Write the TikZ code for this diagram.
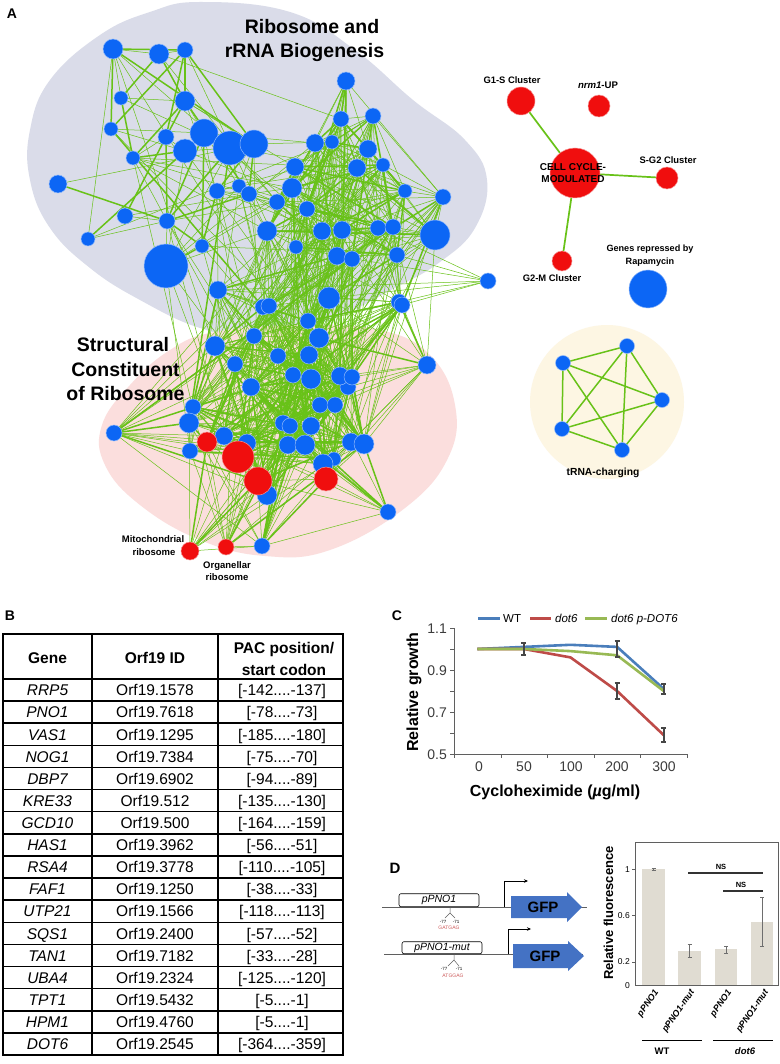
\documentclass[tikz,border=0pt]{standalone}
\usepackage{fontspec}
\setmainfont{Liberation Sans}
\usetikzlibrary{arrows.meta}
\pgfdeclarelayer{bgwhite}
\pgfdeclarelayer{blob}
\pgfdeclarelayer{edges}
\pgfsetlayers{bgwhite,blob,edges,main}
\definecolor{nblue}{RGB}{12,102,245}
\definecolor{nred}{RGB}{240,14,14}
\definecolor{egreen}{RGB}{104,194,24}
\definecolor{blobgray}{RGB}{218,220,233}
\definecolor{blobpink}{RGB}{251,222,221}
\definecolor{blobcream}{RGB}{253,246,227}
\definecolor{cwt}{RGB}{74,126,187}
\definecolor{cdot}{RGB}{190,75,72}
\definecolor{cres}{RGB}{152,185,84}
\definecolor{gfpblue}{RGB}{68,114,196}
\definecolor{barfill}{RGB}{224,220,210}
\definecolor{axgray}{RGB}{95,95,95}
\definecolor{seqred}{RGB}{205,90,90}
\newcommand\fsz[1]{\fontsize{#1}{#1}\selectfont}
\newcommand\defpairprob[5]{\expandafter\def\csname pb#1#2\endcsname{#3}\expandafter\def\csname pl#1#2\endcsname{#4}\expandafter\def\csname pw#1#2\endcsname{#5}}
\defpairprob{1}{1}{0.95}{85}{0.55}
\defpairprob{1}{2}{0.3}{100}{0.1}
\defpairprob{1}{3}{0.25}{100}{0.1}
\defpairprob{1}{4}{0}{100}{0}
\defpairprob{2}{2}{1.0}{160}{0.25}
\defpairprob{2}{3}{0.6}{150}{0.1}
\defpairprob{2}{4}{0}{100}{0}
\defpairprob{3}{3}{1.0}{135}{0.25}
\defpairprob{4}{3}{0}{100}{0}
\newcommand\ebarC[3]{\draw[errc] (#1,#2) -- (#1,#3) (#1-2.5,#2) -- (#1+2.5,#2) (#1-2.5,#3) -- (#1+2.5,#3);}
\newcommand\ebarD[3]{\draw[errd] (#1,#2) -- (#1,#3) (#1-2,#2) -- (#1+2,#2) (#1-2,#3) -- (#1+2,#3);}
\begin{document}
\begin{tikzpicture}[x=1pt,y=-1pt,
  lab/.style={inner sep=0pt,anchor=base},
  rnode/.style={circle,inner sep=0pt,fill=nred,draw=white!55!nred,line width=0.5pt},
  bnode/.style={circle,inner sep=0pt,fill=nblue,draw=white!55!nblue,line width=0.5pt},
  gedge/.style={egreen,line width=0.5pt},
  gthick/.style={egreen,line width=1.5pt},
  tline/.style={black,line width=1.5pt},
  errc/.style={draw={rgb,255:red,70;green,70;blue,70},line width=1.6pt},
  errd/.style={draw={rgb,255:red,110;green,110;blue,110},line width=0.7pt}]
\useasboundingbox (0,0) rectangle (779,1064);
\begin{pgfonlayer}{bgwhite}
\fill[white] (0,0) rectangle (779,1064);
\end{pgfonlayer}

% ---------------- Panel A: blobs ----------------
\begin{pgfonlayer}{blob}
\fill[blobgray] plot[smooth cycle,tension=0.7] coordinates {(200,2) (290,12) (355,50) (413,100) (465,140) (487,180) (475,228) (440,262) (395,288) (330,320) (258,337) (200,328) (140,300) (90,268) (50,228) (30,180) (30,130) (50,80) (100,35) (150,12)};
\fill[blobpink] plot[smooth cycle,tension=0.7] coordinates {(215,332) (300,325) (380,330) (430,355) (455,405) (448,458) (405,508) (330,550) (265,556) (200,540) (140,505) (105,465) (102,425) (130,385) (170,350)};
\fill[blobcream] (607,402) circle[radius=77pt];
\end{pgfonlayer}

% ---------------- Panel A: network nodes ----------------
\foreach \i/\x/\y/\r/\k in {
1/113/49/10/1, 2/159/54/10/1, 3/185/50/8/1, 4/121/98/7/1, 5/185/101/10/1, 6/111/129/7/1, 7/166/137/8/1, 8/204/133/14/1, 9/185/151/12/1, 10/230/148/17/1, 11/254/144/14/1, 12/133/158/7/1, 13/58/184/9/1, 14/217/191/8/1, 15/239/186/7/1, 16/249/194/8/1, 17/125/216/8/1, 18/167/221/8/1, 19/88/239/7/1, 20/202/246/7/1, 21/166/266/22/1,
22/346/81/9/2, 23/341/119/8/2, 24/373/116/8/2, 25/315/143/9/2, 26/332/142/7/2, 27/368/149/9/2, 28/295/167/9/2, 29/357/168/9/2, 30/383/165/7/2, 31/292/188/10/2, 32/277/202/8/2, 33/307/209/8/2, 34/405/191/7/2, 35/443/197/8/2, 36/267/231/10/2, 37/322/231/9/2, 38/342/230/9/2, 39/378/228/8/2, 40/393/227/8/2, 41/435/235/15/2, 42/296/247/7/2, 43/337/256/9/2, 44/352/259/8/2, 45/397/255/8/2,
46/488/281/8/4,
47/218/290/9/3, 48/329/298/11/3, 49/263/307/8/3, 50/269/306/8/3, 51/399/302/8/3, 52/402/305/8/3, 53/308/321/8/3, 54/319/338/10/3, 55/254/336/8/3, 56/215/346/10/3, 57/278/356/8/3, 58/309/355/9/3, 59/235/364/8/3, 60/427/365/9/3, 61/293/375/8/3, 62/311/379/10/3, 63/348/387/8/3, 64/340/376/9/3, 65/352/377/8/3, 66/251/387/9/3, 67/193/407/8/3, 68/320/405/8/3, 69/335/405/8/3, 70/189/423/10/3, 71/114/433/8/3, 72/283/423/8/3, 73/290/426/8/3, 74/311/426/9/3, 75/224/436/9/3, 76/247/443/9/3, 77/190/451/8/3, 78/288/445/9/3, 79/305/445/10/3, 80/351/442/9/3, 81/364/444/10/3, 82/334/459/7/3, 83/323/464/10/3, 84/267/495/10/3, 85/388/512/8/3, 86/262/546/8/3,
87/207/442/10/3, 88/238/457/16/3, 89/258/481/14/3, 90/326/479/12/3, 91/190/551/9/3, 92/226/547/8/3}{
  \ifnum\i>86
    \node[rnode,minimum size={2*\r*1pt}] (n\i) at (\x,\y) {};
  \else
    \node[bnode,minimum size={2*\r*1pt}] (n\i) at (\x,\y) {};
  \fi
  \expandafter\xdef\csname nx\i\endcsname{\x}
  \expandafter\xdef\csname ny\i\endcsname{\y}
  \expandafter\xdef\csname nk\i\endcsname{\k}
}

% ---------------- Panel A: network edges ----------------
\pgfmathsetseed{4242}
\begin{pgfonlayer}{edges}
\foreach \i in {1,...,91}{
  \pgfmathtruncatemacro\jst{\i+1}
  \foreach \j in {\jst,...,92}{
    \edef\ki{\csname nk\i\endcsname}\edef\kj{\csname nk\j\endcsname}
    \edef\pbv{\csname pb\ki\kj\endcsname}\edef\plv{\csname pl\ki\kj\endcsname}\edef\pwv{\csname pw\ki\kj\endcsname}
    \edef\xa{\csname nx\i\endcsname}\edef\ya{\csname ny\i\endcsname}
    \edef\xb{\csname nx\j\endcsname}\edef\yb{\csname ny\j\endcsname}
    \pgfmathsetmacro\dd{veclen(\xa-\xb,\ya-\yb)}
    \pgfmathsetmacro\pp{\pbv*exp(-\dd/\plv)}
    \pgfmathsetmacro\rr{rnd}
    \ifdim\rr pt<\pp pt
      \pgfmathsetmacro\ww{rnd}
      \ifdim\ww pt<\pwv pt
        \draw[gthick] (n\i.center) -- (n\j.center);
      \else
        \draw[gedge] (n\i.center) -- (n\j.center);
      \fi
    \fi
  }
}
\foreach \j in {31,43,47,48,51,52,45}{\draw[gedge] (n46.center) -- (n\j.center);}
\end{pgfonlayer}

% ---------------- Panel A: labels ----------------
\node[lab,font=\fsz{14}\bfseries] (labA) at (12,19) {A};
\node[lab,font=\fsz{19.5}\bfseries] (t1a) at (312,34) {Ribosome and};
\node[lab,font=\fsz{19.5}\bfseries] (t1b) at (304.5,58) {rRNA Biogenesis};
\node[lab,font=\fsz{19.5}\bfseries] (t2a) at (123,351) {Structural};
\node[lab,font=\fsz{19.5}\bfseries] (t2b) at (125.5,376) {Constituent};
\node[lab,font=\fsz{19.5}\bfseries] (t2c) at (125.5,400) {of Ribosome};
\node[lab,font=\fsz{9.5}\bfseries] (mitoa) at (153,542.4) {Mitochondrial};
\node[lab,font=\fsz{9.5}\bfseries] (mitob) at (154,555.4) {ribosome};
\node[lab,font=\fsz{9.5}\bfseries] (orga) at (227,568.4) {Organellar};
\node[lab,font=\fsz{9.5}\bfseries] (orgb) at (227,580.4) {ribosome};

% ---------------- Cell cycle cluster ----------------
\node[rnode,minimum size=28pt] (g1s) at (521,101) {};
\node[rnode,minimum size=22pt] (nrm) at (599,106) {};
\node[rnode,minimum size=50pt] (cc) at (575,173) {};
\node[rnode,minimum size=22pt] (sg2) at (667,178) {};
\node[rnode,minimum size=20pt] (g2m) at (562,261) {};
\node[bnode,minimum size=38pt] (rapa) at (648,289) {};
\begin{pgfonlayer}{edges}
\draw[egreen,line width=1.7pt] (g1s.center) -- (cc.center);
\draw[egreen,line width=1.7pt] (cc.center) -- (sg2.center);
\draw[egreen,line width=1.7pt] (cc.center) -- (g2m.center);
\end{pgfonlayer}
\node[lab,font=\fsz{9.4}\bfseries] (g1slab) at (512,83.4) {G1-S Cluster};
\node[lab,font=\fsz{9.6}\bfseries] (nrmlab) at (598,88.4) {\textit{nrm1}-UP};
\node[lab,font=\fsz{10}\bfseries] (cclaba) at (573,170.6) {CELL CYCLE-};
\node[lab,font=\fsz{10}\bfseries] (cclabb) at (573,182.6) {MODULATED};
\node[lab,font=\fsz{9.4}\bfseries] (sg2lab) at (668,163.4) {S-G2 Cluster};
\node[lab,font=\fsz{9.4}\bfseries] (g2mlab) at (552,281.4) {G2-M Cluster};
\node[lab,font=\fsz{9.1}\bfseries] (rapla) at (650,251.3) {Genes repressed by};
\node[lab,font=\fsz{9.1}\bfseries] (raplb) at (650,264.3) {Rapamycin};

% ---------------- tRNA charging ----------------
\node[bnode,minimum size=15pt] (t1) at (563,363) {};
\node[bnode,minimum size=15pt] (t2) at (627,346) {};
\node[bnode,minimum size=15pt] (t3) at (662,400) {};
\node[bnode,minimum size=15pt] (t4) at (622,450) {};
\node[bnode,minimum size=15pt] (t5) at (562,429) {};
\begin{pgfonlayer}{edges}
\foreach \a/\b in {t1/t2,t1/t3,t1/t4,t1/t5,t2/t3,t2/t4,t2/t5,t3/t4,t3/t5,t4/t5}{\draw[egreen,line width=1.5pt] (\a.center) -- (\b.center);}
\end{pgfonlayer}
\node[lab,font=\fsz{10.3}\bfseries] (trlab) at (603,475.7) {tRNA-charging};

% ---------------- Panel B: table ----------------
\node[lab,font=\fsz{14}\bfseries] (labB) at (10,620) {B};
\draw[tline] (3,634) rectangle (343,1055);
\draw[tline] (92,634) -- (92,1055);
\draw[tline] (218,634) -- (218,1055);
\draw[tline] (3,679) -- (343,679);
\foreach \k in {1,...,16}{\draw[tline] (3,{679+22.12*\k}) -- (343,{679+22.12*\k});}
\node[lab,font=\fsz{15.5}\bfseries] (hg) at (47.5,663.6) {Gene};
\node[lab,font=\fsz{15.5}\bfseries] (ho) at (155,663.6) {Orf19 ID};
\node[lab,font=\fsz{15.5}\bfseries] (hpa) at (284,653.6) {PAC position/};
\node[lab,font=\fsz{15.5}\bfseries] (hpb) at (284,675.6) {start codon};
\foreach \g/\o/\a/\b [count=\k] in {RRP5/1578/142/137, PNO1/7618/78/73, VAS1/1295/185/180, NOG1/7384/75/70, DBP7/6902/94/89, KRE33/512/135/130, GCD10/500/164/159, HAS1/3962/56/51, RSA4/3778/110/105, FAF1/1250/38/33, UTP21/1566/118/113, SQS1/2400/57/52, TAN1/7182/33/28, UBA4/2324/125/120, TPT1/5432/5/1, HPM1/4760/5/1, DOT6/2545/364/359}{
  \pgfmathsetmacro\ry{679+22.12*(\k-0.5)+5.7}
  \node[lab,font=\fsz{15.5}\itshape] (gene\k) at (47.5,\ry) {\g};
  \node[lab,font=\fsz{15.5}] (orf\k) at (155,\ry) {Orf19.\o};
  \node[lab,font=\fsz{15.5}] (pac\k) at (282,\ry) {[-\a....-\b]};
}

% ---------------- Panel C: growth chart ----------------
\node[lab,font=\fsz{14}\bfseries] (labC) at (397,620) {C};
\draw[axgray,line width=0.8pt] (454,628) -- (454,754) -- (687,754);
\foreach \yy in {628,649,670,691,712,733,754}{\draw[axgray,line width=0.8pt] (450,\yy) -- (454,\yy);}
\foreach \xx in {454,501,547,594,640,687}{\draw[axgray,line width=0.8pt] (\xx,754) -- (\xx,758);}
\foreach \v/\yy in {1.1/628,0.9/670,0.7/712,0.5/754}{\node[lab,anchor=base east,font=\fsz{14},text={rgb,255:red,60;green,60;blue,60}] (yt\yy) at (447,\yy+5) {\v};}
\foreach \v/\xx in {0/479,50/524,100/571,200/617,300/664}{\node[lab,font=\fsz{14},text={rgb,255:red,60;green,60;blue,60}] (xt\v) at (\xx,771) {\v};}
\draw[cwt,line width=2.6pt,line join=round] (477.3,649) -- (523.9,646.9) -- (570.5,644.8) -- (617.1,646.9) -- (663.7,688.9);
\draw[cdot,line width=2.6pt,line join=round] (477.3,649) -- (523.9,649) -- (570.5,657.4) -- (617.1,691) -- (663.7,735.1);
\draw[cres,line width=2.6pt,line join=round] (477.3,649) -- (523.9,649) -- (570.5,651.1) -- (617.1,655.3) -- (663.7,691);
\ebarC{523.9}{643}{655}
\ebarC{617.1}{641}{657}
\ebarC{663.7}{684}{694}
\ebarC{617.1}{683}{699}
\ebarC{663.7}{728}{742}
\draw[cwt,line width=3pt] (478,618) -- (500,618);
\node[lab,anchor=base west,font=\fsz{11.5}] (lgwt) at (503,622) {WT};
\draw[cdot,line width=3pt] (530,618) -- (551,618);
\node[lab,anchor=base west,font=\fsz{11.5}\itshape] (lgdot) at (555,622) {dot6};
\draw[cres,line width=3pt] (585,618) -- (607,618);
\node[lab,anchor=base west,font=\fsz{11.5}\itshape] (lgres) at (611,622) {dot6 p-DOT6};
\node[lab,font=\fsz{16}\bfseries] (xlabC) at (555,796) {Cycloheximide ({\itshape µ}g/ml)};
\node[lab,font=\fsz{16}\bfseries,rotate=90] (ylabC) at (418,692) {Relative growth};

% ---------------- Panel D: schematic ----------------
\node[lab,font=\fsz{15}\bfseries] (labD) at (395,873) {D};
\draw[axgray,line width=0.8pt] (382,907) -- (587,907);
\node[draw,fill=white,rounded corners=2pt,line width=0.6pt,minimum width=80pt,minimum height=13pt,inner sep=0pt,anchor=south,font=\fsz{10.5}\itshape] (box1) at (439,907) {pPNO1};
\draw[black,line width=0.8pt,-{Stealth[length=4pt,width=3.5pt]}] (504,907) -- (504,881) -- (528,881);
\fill[gfpblue] (511,896) -- (567,896) -- (567,892) -- (582,907) -- (567,922) -- (567,918) -- (511,918) -- cycle;
\node[lab,font=\fsz{15}\bfseries] (gfp1) at (543,912.5) {GFP};
\draw[axgray,line width=0.5pt] (450,907) -- (450,913) -- (445,918) (450,913) -- (455,918);
\node[lab,font=\fsz{4.5}] (m77a) at (443,923) {-77};
\node[lab,font=\fsz{4.5}] (m71a) at (456,923) {-71};
\node[lab,font=\fsz{5},text=seqred] (seqa) at (449,929) {GATGAG};

\draw[axgray,line width=0.8pt] (384,954) -- (583,954);
\node[draw,fill=white,rounded corners=2pt,line width=0.6pt,minimum width=80pt,minimum height=12pt,inner sep=0pt,anchor=south,font=\fsz{10.5}\itshape] (box2) at (442,954) {pPNO1-mut};
\draw[black,line width=0.8pt,-{Stealth[length=4pt,width=3.5pt]}] (508,954) -- (508,929) -- (531,929);
\fill[gfpblue] (513,944) -- (568,944) -- (568,941) -- (584,956) -- (568,971) -- (568,968) -- (513,968) -- cycle;
\node[lab,font=\fsz{15}\bfseries] (gfp2) at (545,961.5) {GFP};
\draw[axgray,line width=0.5pt] (454,954) -- (454,960) -- (448,966) (454,960) -- (459,966);
\node[lab,font=\fsz{4.5}] (m77b) at (444,970) {-77};
\node[lab,font=\fsz{4.5}] (m71b) at (459,970) {-71};
\node[lab,font=\fsz{5},text=seqred] (seqb) at (453,977) {ATGGAG};

% ---------------- Panel D: bar chart ----------------
\fill[barfill] (642,869) rectangle (665,985);
\fill[barfill] (678,951.4) rectangle (701,985);
\fill[barfill] (715,949) rectangle (737,985);
\fill[barfill] (751,922.4) rectangle (773,985);
\draw[axgray,line width=0.6pt] (635,842) rectangle (778,985);
\foreach \yy in {869,915.4,961.8}{\draw[axgray,line width=0.6pt] (632,\yy) -- (635,\yy);}
\foreach \v/\yy in {1/869,0.6/915.4,0.2/961.8,0/985}{\node[lab,anchor=base east,font=\fsz{8.5}] (bt\yy) at (630,\yy+3) {\v};}
\ebarD{653.5}{868}{870.5}
\ebarD{689.5}{944}{957}
\ebarD{726}{946}{953}
\ebarD{762}{897}{946}
\draw[black!80,line width=1.1pt] (688,873) -- (763,873);
\node[lab,font=\fsz{7.5}\bfseries] (ns1) at (721,869) {NS};
\draw[black!80,line width=1.1pt] (723,891) -- (763,891);
\node[lab,font=\fsz{7.5}\bfseries] (ns2) at (741,887) {NS};
\node[lab,font=\fsz{13}\bfseries,rotate=90] (ylabD) at (613,913) {Relative fluorescence};
\foreach \xx/\t in {657/pPNO1,693/pPNO1-mut,730/pPNO1,767/pPNO1-mut}{\node[inner sep=0pt,anchor=east,rotate=55,font=\fsz{9}\bfseries\itshape] (bx\xx) at (\xx,991) {\t};}
\draw[black,line width=0.8pt] (642,1040) -- (702,1040);
\draw[black,line width=0.8pt] (713,1040) -- (773,1040);
\node[lab,font=\fsz{9.5}\bfseries] (gwt) at (662,1054) {WT};
\node[lab,font=\fsz{9.5}\bfseries\itshape] (gdot) at (745,1054) {dot6};
\end{tikzpicture}
\end{document}
